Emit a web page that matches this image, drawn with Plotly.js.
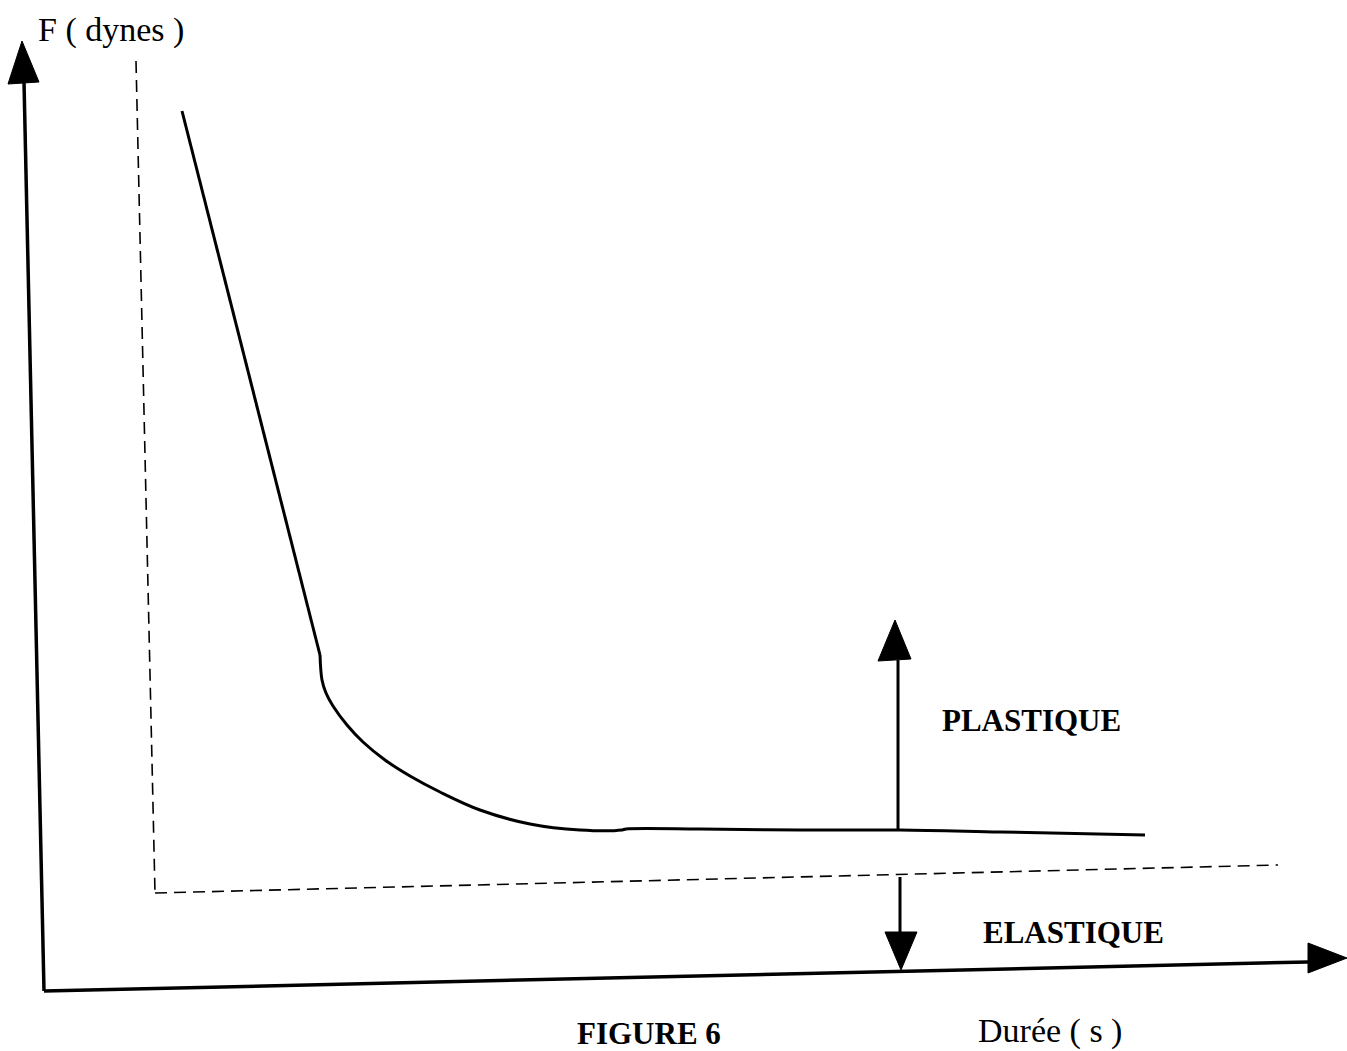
<!DOCTYPE html>
<html><head><meta charset="utf-8">
<script src="https://cdn.plot.ly/plotly-3.0.1.min.js"></script>
<style>html,body{margin:0;padding:0;background:#fff}</style>
</head><body><div id="chart" style="width:1347px;height:1051px"></div>
<script>
// Sketch coordinates (drawing units, y grows downward)
const steepX = [182, 250, 318, 320];
const steepY = [111, 380, 648, 655];
const curveX = [320, 322, 326, 333, 347, 363, 385, 410, 440, 480, 530, 580, 622, 626, 700, 800, 900, 1000, 1145];
const curveY = [655, 680, 693, 706, 725, 742, 760, 776, 792, 810, 824, 830, 830, 829, 829, 830, 830, 832, 835];

const yAxisX = [44, 24];
const yAxisY = [991, 82];
const xAxisX = [44, 1308];
const xAxisY = [991, 962];

const dashVX = [136, 155];
const dashVY = [61, 893];
const dashHX = [155, 1278];
const dashHY = [893, 865];

const upArrowX = [898, 898];
const upArrowY = [830, 660];
const downArrowX = [900, 900];
const downArrowY = [877, 932];

const headYAxisX = [8, 39, 22, 8];
const headYAxisY = [84, 82, 41, 84];
const headXAxisX = [1308, 1308, 1347, 1308];
const headXAxisY = [943, 973, 958, 943];
const headUpX = [878, 911, 895, 878];
const headUpY = [661, 659, 620, 661];
const headDownX = [885, 917, 901, 885];
const headDownY = [932, 932, 970, 932];

const labels = ["F ( dynes )", "PLASTIQUE", "ELASTIQUE", "FIGURE 6", "Durée ( s )"];
const labelX = [111, 1031, 1073, 649, 1050];
const labelY = [30, 720, 932, 1033, 1031];

const line = (x, y, w, dash, shape) => ({x, y, mode: 'lines', type: 'scatter', hoverinfo: 'skip',
  line: {color: '#000', width: w, dash: dash || 'solid', shape: shape || 'linear', smoothing: 1}});
const tri = (x, y) => ({x, y, mode: 'lines', type: 'scatter', fill: 'toself', fillcolor: '#000',
  hoverinfo: 'skip', line: {color: '#000', width: 1}});

const traces = [
  line(steepX, steepY, 3),
  line(curveX, curveY, 3, 'solid', 'spline'),
  line(yAxisX, yAxisY, 3.5),
  line(xAxisX, xAxisY, 3.5),
  line(dashVX, dashVY, 1.6, '12px,7px'),
  line(dashHX, dashHY, 1.6, '12px,7px'),
  line(upArrowX, upArrowY, 3),
  line(downArrowX, downArrowY, 3),
  tri(headYAxisX, headYAxisY),
  tri(headXAxisX, headXAxisY),
  tri(headUpX, headUpY),
  tri(headDownX, headDownY)
];

const fonts = [
  {family: 'Liberation Serif', size: 34, color: '#000'},
  {family: 'Liberation Serif', size: 31, color: '#000', weight: 'bold'},
  {family: 'Liberation Serif', size: 31, color: '#000', weight: 'bold'},
  {family: 'Liberation Serif', size: 31, color: '#000', weight: 'bold'},
  {family: 'Liberation Serif', size: 34, color: '#000'}
];

const annotations = labels.map((t, i) => ({
  x: labelX[i], y: labelY[i], xref: 'x', yref: 'y', text: t, showarrow: false,
  xanchor: 'center', yanchor: 'middle', font: fonts[i]
}));

const layout = {
  width: 1347, height: 1051,
  margin: {l: 0, r: 0, t: 0, b: 0},
  paper_bgcolor: '#fff', plot_bgcolor: '#fff',
  showlegend: false,
  xaxis: {range: [0, 1347], visible: false, fixedrange: true},
  yaxis: {range: [1051, 0], visible: false, fixedrange: true},
  annotations
};

Plotly.newPlot('chart', traces, layout, {staticPlot: true});
</script></body></html>
